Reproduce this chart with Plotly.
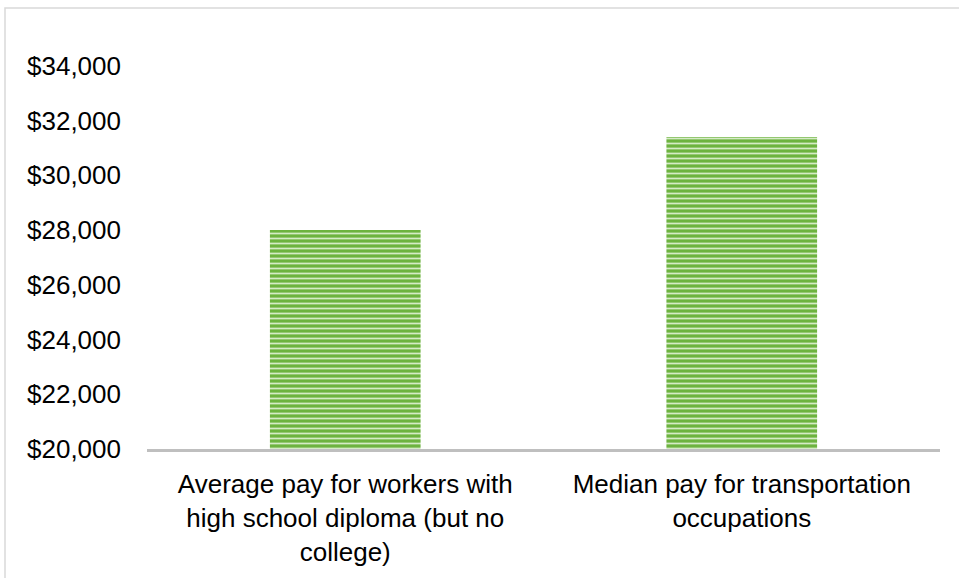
import plotly.graph_objects as go

categories = [
    "Average pay for workers with<br>high school diploma (but no<br>college)",
    "Median pay for transportation<br>occupations",
]
values = [28000, 31400]
tick_vals = [20000, 22000, 24000, 26000, 28000, 30000, 32000, 34000]
tick_text = ["$20,000", "$22,000", "$24,000", "$26,000", "$28,000", "$30,000", "$32,000", "$34,000"]

W, H = 959, 578
ml, mr, mt, mb = 147, 19, 11, 119

fig = go.Figure(
    go.Bar(
        x=categories,
        y=values,
        width=0.38,
        marker=dict(
            color="#70AD47",
            line=dict(width=0),
            pattern=dict(shape="-", fgcolor="#D5EBC6", bgcolor="#6DB33F", size=5, solidity=0.35, fillmode="replace"),
        ),
        hoverinfo="skip",
    )
)

pw = W - ml - mr
ph = H - mt - mb
fig.add_shape(
    type="rect", xref="paper", yref="paper",
    x0=(5 - ml) / pw, x1=(W + 20 - ml) / pw,
    y0=-(H + 20 - mt - ph) / ph, y1=1 + (mt - 8) / ph,
    line=dict(color="#D9D9D9", width=1.5), fillcolor="rgba(0,0,0,0)", layer="below",
)

fig.update_layout(
    width=W, height=H,
    margin=dict(l=ml, r=mr, t=mt, b=mb, pad=0),
    paper_bgcolor="white", plot_bgcolor="white",
    font=dict(family="Liberation Sans, Arial, sans-serif", size=26, color="#000000"),
    showlegend=False,
    bargap=0.62,
    xaxis=dict(
        showline=True, linecolor="#BFBFBF", linewidth=2.5, showgrid=False, ticks="",
        tickfont=dict(size=26), zeroline=False, ticklabelstandoff=10,
    ),
    yaxis=dict(
        range=[20000, 36000], tickvals=tick_vals, ticktext=tick_text,
        showgrid=False, zeroline=False, showline=False, ticks="",
        ticklabelstandoff=25, tickfont=dict(size=26),
    ),
)

fig.write_html(
    "out.html",
    config={"displayModeBar": False},
    post_script="document.body.style.margin='0';document.body.style.overflow='hidden';",
)
